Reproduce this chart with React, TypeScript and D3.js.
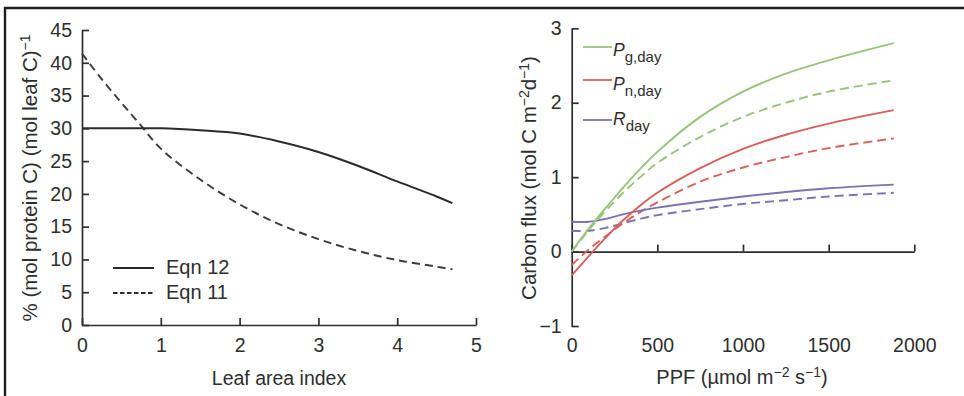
import React, { useEffect, useRef } from "react";
import * as d3 from "d3";

// left panel: protein fraction vs leaf area index
const laiX = [0, 0.25, 0.5, 0.75, 1, 1.5, 2, 2.5, 3, 3.5, 4, 4.5, 4.7];
const eqn12 = [30, 30, 30, 30, 30, 29.7, 29.2, 28.0, 26.4, 24.3, 21.9, 19.6, 18.6];
const eqn11 = [41.4, 37.5, 33.9, 30.4, 26.9, 22.2, 18.4, 15.4, 13.1, 11.3, 9.9, 8.9, 8.5];
const laiTicks = [0, 1, 2, 3, 4, 5];
const pctTicks = [0, 5, 10, 15, 20, 25, 30, 35, 40, 45];

// right panel: carbon flux vs PPF
const ppf = [0, 100, 200, 300, 400, 500, 750, 1000, 1250, 1500, 1880];
const pgSolid = [0, 0.31, 0.59, 0.86, 1.11, 1.34, 1.81, 2.15, 2.39, 2.57, 2.8];
const pgDashed = [0, 0.29, 0.55, 0.79, 1.0, 1.19, 1.54, 1.81, 2.0, 2.15, 2.3];
const pnSolid = [-0.32, -0.06, 0.19, 0.42, 0.62, 0.79, 1.12, 1.38, 1.57, 1.72, 1.9];
const pnDashed = [-0.18, 0.03, 0.21, 0.38, 0.53, 0.66, 0.94, 1.13, 1.27, 1.39, 1.52];
const rSolid = [0.4, 0.4, 0.44, 0.5, 0.55, 0.59, 0.67, 0.74, 0.8, 0.85, 0.9];
const rDashed = [0.28, 0.28, 0.32, 0.38, 0.44, 0.49, 0.57, 0.64, 0.69, 0.74, 0.79];
const ppfTicks = [0, 500, 1000, 1500, 2000];
const fluxTicks = [-1, 0, 1, 2, 3];

const width = 964,
  height = 396;
const font = "'Liberation Sans', Arial, Helvetica, sans-serif";
const ink = "#2e2e2e";
const green = "#98c47a",
  red = "#d8605c",
  purple = "#7b73b3";
const tickFont = 19.5;

const fmt = (d: any) => (+d < 0 ? "\u2212" + Math.abs(+d) : String(d));

function styleAxis(g: any) {
  g.select(".domain").attr("stroke", ink).attr("stroke-width", 1.7);
  g.selectAll(".tick line").attr("stroke", ink).attr("stroke-width", 1.7);
  g.selectAll(".tick text")
    .attr("fill", ink)
    .style("font-family", font)
    .style("font-size", tickFont + "px");
}

function drawLeft(svg: any) {
  const x = d3.scaleLinear().domain([0, 5]).range([82, 476]);
  const y = d3.scaleLinear().domain([0, 45]).range([325, 30]);

  const ya = svg
    .append("g")
    .attr("transform", "translate(82,0)")
    .call(
      d3.axisLeft(y).tickValues(pctTicks).tickSize(-7).tickSizeOuter(0).tickPadding(10).tickFormat(fmt)
    );
  styleAxis(ya);

  const xa = svg
    .append("g")
    .attr("transform", "translate(0,325)")
    .call(
      d3.axisBottom(x).tickValues(laiTicks).tickSize(-7).tickSizeOuter(0).tickPadding(13).tickFormat(fmt)
    );
  styleAxis(xa);

  const line = d3
    .line<number>()
    .x((d, i) => x(laiX[i]))
    .y(d => y(d))
    .curve(d3.curveCatmullRom.alpha(0.5));

  svg
    .append("path")
    .attr("d", line(eqn11))
    .attr("fill", "none")
    .attr("stroke", "#3a3a3a")
    .attr("stroke-width", 1.9)
    .attr("stroke-dasharray", "8,5");
  svg
    .append("path")
    .attr("d", line(eqn12))
    .attr("fill", "none")
    .attr("stroke", "#2a2a2a")
    .attr("stroke-width", 2);

  // legend
  const leg = [
    { label: "Eqn 12", dash: null, ly: 268, ty: 274 },
    { label: "Eqn 11", dash: "4.5,2.5", ly: 293, ty: 299 }
  ];
  leg.forEach(l => {
    svg
      .append("line")
      .attr("x1", 113)
      .attr("x2", 154)
      .attr("y1", l.ly)
      .attr("y2", l.ly)
      .attr("stroke", "#2a2a2a")
      .attr("stroke-width", 1.8)
      .attr("stroke-dasharray", l.dash);
    svg
      .append("text")
      .attr("x", 166)
      .attr("y", l.ty)
      .attr("fill", ink)
      .style("font-family", font)
      .style("font-size", "20px")
      .text(l.label);
  });

  svg
    .append("text")
    .attr("x", 279)
    .attr("y", 385)
    .attr("text-anchor", "middle")
    .attr("fill", ink)
    .style("font-family", font)
    .style("font-size", "19.5px")
    .text("Leaf area index");

  const yt = svg
    .append("text")
    .attr("transform", "translate(37,178) rotate(-90)")
    .attr("text-anchor", "middle")
    .attr("fill", ink)
    .style("font-family", font)
    .style("font-size", "20.5px");
  yt.append("tspan").text("% (mol protein C) (mol leaf C)");
  yt.append("tspan").attr("dy", -7).style("font-size", "14px").text("\u22121");
}

function drawRight(svg: any) {
  const x = d3.scaleLinear().domain([0, 2000]).range([571.7, 914.3]);
  const y = d3.scaleLinear().domain([-1, 3]).range([326, 28.3]);

  const ya = svg
    .append("g")
    .attr("transform", "translate(571.7,0)")
    .call(
      d3.axisLeft(y).tickValues(fluxTicks).tickSize(-7).tickSizeOuter(0).tickPadding(10).tickFormat(fmt)
    );
  styleAxis(ya);

  // x axis sits on the zero line, its labels go below the plot
  const xa = svg
    .append("g")
    .attr("transform", `translate(0,${y(0)})`)
    .call(d3.axisBottom(x).tickValues(ppfTicks).tickSize(-7).tickSizeOuter(0).tickFormat(() => ""));
  styleAxis(xa);
  const xl = svg
    .append("g")
    .attr("transform", `translate(0,${y(-1)})`)
    .call(d3.axisBottom(x).tickValues(ppfTicks).tickSize(0).tickPadding(12).tickFormat(fmt));
  xl.select(".domain").remove();
  styleAxis(xl);

  const line = d3
    .line<number>()
    .x((d, i) => x(ppf[i]))
    .y(d => y(d))
    .curve(d3.curveCatmullRom.alpha(0.5));

  const series = [
    { v: rDashed, c: purple, dash: "9,5" },
    { v: pnDashed, c: red, dash: "9,5" },
    { v: pgDashed, c: green, dash: "9,5" },
    { v: rSolid, c: purple, dash: null },
    { v: pnSolid, c: red, dash: null },
    { v: pgSolid, c: green, dash: null }
  ];
  series.forEach(s => {
    svg
      .append("path")
      .attr("d", line(s.v))
      .attr("fill", "none")
      .attr("stroke", s.c)
      .attr("stroke-width", 1.9)
      .attr("stroke-dasharray", s.dash);
  });

  // legend
  const leg = [
    { main: "P", sub: "g,day", c: green, ly: 47, ty: 56 },
    { main: "P", sub: "n,day", c: red, ly: 80, ty: 90 },
    { main: "R", sub: "day", c: purple, ly: 120, ty: 125 }
  ];
  leg.forEach(l => {
    svg
      .append("line")
      .attr("x1", 583)
      .attr("x2", 612)
      .attr("y1", l.ly)
      .attr("y2", l.ly)
      .attr("stroke", l.c)
      .attr("stroke-width", 1.8);
    const t = svg
      .append("text")
      .attr("x", 613)
      .attr("y", l.ty)
      .attr("fill", ink)
      .style("font-family", font)
      .style("font-size", "17.5px");
    t.append("tspan").style("font-style", "italic").text(l.main);
    t.append("tspan").attr("dy", 6).style("font-size", "15px").text(l.sub);
  });

  const xt = svg
    .append("text")
    .attr("x", 742)
    .attr("y", 384)
    .attr("text-anchor", "middle")
    .attr("fill", ink)
    .style("font-family", font)
    .style("font-size", "20px");
  xt.append("tspan").text("PPF (\u00b5mol m");
  xt.append("tspan").attr("dy", -7).style("font-size", "14px").text("\u22122");
  xt.append("tspan").attr("dy", 7).text(" s");
  xt.append("tspan").attr("dy", -7).style("font-size", "14px").text("\u22121");
  xt.append("tspan").attr("dy", 7).text(")");

  const yt = svg
    .append("text")
    .attr("transform", "translate(536,178) rotate(-90)")
    .attr("text-anchor", "middle")
    .attr("fill", ink)
    .style("font-family", font)
    .style("font-size", "20.5px");
  yt.append("tspan").text("Carbon flux (mol C m");
  yt.append("tspan").attr("dy", -7).style("font-size", "14px").text("\u22122");
  yt.append("tspan").attr("dy", 7).text("d");
  yt.append("tspan").attr("dy", -7).style("font-size", "14px").text("\u22121");
  yt.append("tspan").attr("dy", 7).text(")");
}

export default function App() {
  const svgRef = useRef<SVGSVGElement>(null);

  useEffect(() => {
    const svg = d3.select(svgRef.current);
    svg.selectAll("*").remove();

    // outer frame (top and left edges only)
    svg
      .append("path")
      .attr("d", `M5,${height} V8 H${width}`)
      .attr("fill", "none")
      .attr("stroke", "#1e1e1e")
      .attr("stroke-width", 2.4);

    drawLeft(svg);
    drawRight(svg);
  }, []);

  return (
    <div style={{ position: "absolute", left: 0, top: 0 }}>
      <svg
        ref={svgRef}
        width={width}
        height={height}
        style={{ display: "block", background: "#fff" }}
      />
    </div>
  );
}
